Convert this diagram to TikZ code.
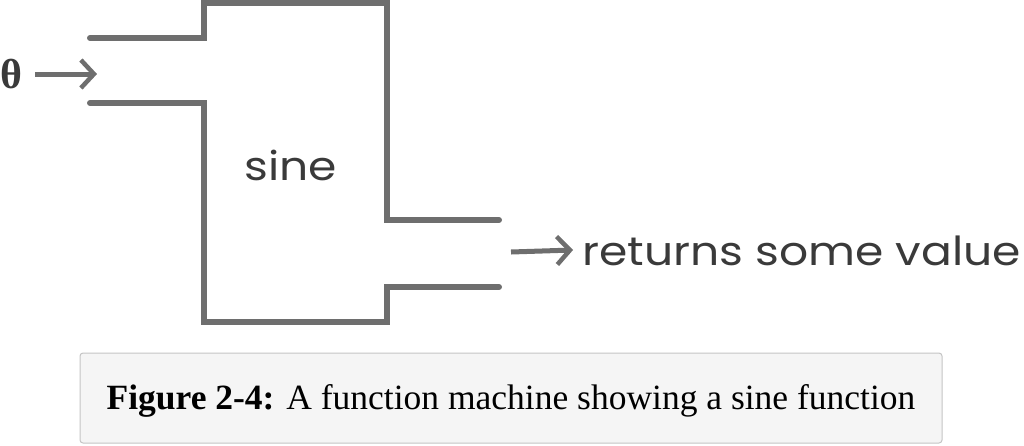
\documentclass[tikz,border=0pt]{standalone}
\usepackage{fontspec}
\setmainfont{Liberation Serif}
\newfontfamily\machfont{Poppins}
\usetikzlibrary{arrows.meta}
\definecolor{machgray}{HTML}{6E6E6E}
\definecolor{capfill}{HTML}{F5F5F5}
\definecolor{capline}{HTML}{C4C4C4}
\definecolor{textgray}{HTML}{3A3A3A}
\tikzset{
  machline/.style={draw=machgray, line width=6pt, line cap=round, line join=miter},
  flowarrow/.style={draw=machgray, line width=5pt, -{Straight Barb[length=13pt,width=28pt,line width=4.5pt]}},
  machtext/.style={font=\machfont\fontsize{40}{44}\selectfont, text=textgray, inner sep=0pt},
  captionbox/.style={draw=capline, fill=capfill, rounded corners=3pt, line width=1pt, minimum width=862pt, minimum height=90pt, inner sep=0pt},
}
\begin{document}
\begin{tikzpicture}[x=1pt,y=-1pt]
\useasboundingbox (0,0) rectangle (1024,445);
% machine outline
\draw[machline] (90,38) -- (204,38) -- (204,3) -- (387,3) -- (387,220) -- (499,220);
\draw[machline] (90,103) -- (204,103) -- (204,322) -- (387,322) -- (387,287) -- (499,287);
% input
\node[font=\bfseries\fontsize{42}{44}\selectfont, text=textgray, inner sep=0pt, anchor=center] (theta) at (11,74) {θ};
\coordinate (inend) at (97,74);
\draw[flowarrow] (35,74) -- (inend);
\node[machtext] (sine) at (291,165) {\scalebox{1.14}[1]{sine}};
% output
\coordinate (outstart) at (511,252);
\node[machtext, anchor=west] (ret) at (582,251) {\scalebox{1.14}[1]{returns some value}};
\draw[flowarrow] (outstart) -- ([xshift=-9pt,yshift=1pt]ret.west);
% caption
\node[captionbox] (capbox) at (511,398) {};
\node[font=\fontsize{35.5}{38}\selectfont, inner sep=0pt] (cap) at ([yshift=-3pt]capbox.center) {\textbf{Figure 2-4:} A function machine showing a sine function};
\end{tikzpicture}
\end{document}
